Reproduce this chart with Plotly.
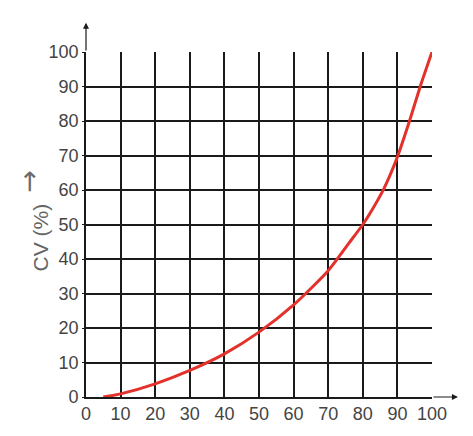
import plotly.graph_objects as go

# Curve data
cum_pct = [5, 10, 20, 30, 40, 50, 60, 70, 76, 80, 83, 86, 88, 90, 93.5, 96.6, 100]
cv_pct = [0, 0.9, 3.8, 7.7, 12.5, 18.8, 26.7, 36.6, 44.6, 50, 54.8, 60.2, 64.6, 69.6, 80, 90, 100]

x_ticks = [0, 10, 20, 30, 40, 50, 60, 70, 80, 90, 100]
y_ticks = [0, 10, 20, 30, 40, 50, 60, 70, 80, 90, 100]
y_title = "CV (%)"
y_arrow = "\u2192"

fig = go.Figure()
fig.add_trace(go.Scatter(
    x=cum_pct, y=cv_pct, mode="lines",
    line=dict(color="#e3312b", width=3, shape="spline", smoothing=0.6),
    hoverinfo="skip", showlegend=False, cliponaxis=False,
))

tickfont = dict(family="Liberation Sans, Arial, sans-serif", size=18, color="#444444")

# page body has an 8px margin, so the figure is drawn 8px in from the window edge
fig.update_layout(
    width=465, height=428,
    margin=dict(l=78, r=41, t=44, b=39),
    paper_bgcolor="white", plot_bgcolor="white",
    xaxis=dict(range=[0, 100], tickvals=x_ticks, ticktext=[str(v) for v in x_ticks],
               showgrid=True, gridcolor="#1a1a1a", gridwidth=1.6,
               showline=True, linecolor="#1a1a1a", linewidth=1.6,
               zeroline=False, ticks="", tickfont=tickfont, fixedrange=True,
               automargin=False),
    yaxis=dict(range=[0, 100], tickvals=y_ticks, ticktext=[str(v) for v in y_ticks],
               showgrid=True, gridcolor="#1a1a1a", gridwidth=1.6,
               showline=True, linecolor="#1a1a1a", linewidth=1.6,
               zeroline=False, ticks="outside", ticklen=2, tickcolor="#1a1a1a",
               tickfont=tickfont, fixedrange=True, automargin=False),
)

# axis arrows
fig.add_annotation(x=0, y=108.5, ax=0, ay=100, xref="x", yref="y", axref="x", ayref="y",
                   showarrow=True, arrowhead=2, arrowsize=1, arrowwidth=1.2,
                   arrowcolor="#1a1a1a", text="")
fig.add_annotation(x=107.5, y=0, ax=100, ay=0, xref="x", yref="y", axref="x", ayref="y",
                   showarrow=True, arrowhead=2, arrowsize=1, arrowwidth=1.2,
                   arrowcolor="#1a1a1a", text="")

# y title (text rotated, arrow separate)
fig.add_annotation(xref="x domain", yref="y domain",
                   x=(26 - 86) / 346, y=(397 - 238) / 345, text=y_title,
                   showarrow=False, textangle=-90,
                   font=dict(family="Liberation Sans, Arial, sans-serif", size=21, color="#666666"))
fig.add_annotation(xref="x domain", yref="y domain",
                   x=(7 - 86) / 346, y=(397 - 181) / 345, text=y_arrow,
                   showarrow=False, textangle=-90,
                   font=dict(family="Noto Sans, DejaVu Sans, sans-serif", size=27, color="#6a6a6a"))

fig.write_html("out.html")
